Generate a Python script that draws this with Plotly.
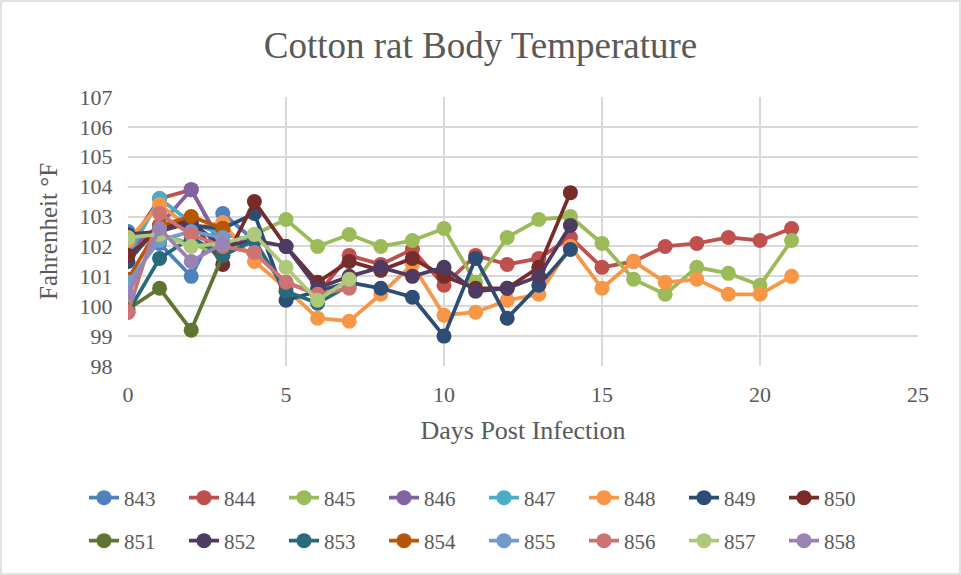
import plotly.graph_objects as go

days = list(range(22))
series_names = ["843", "844", "845", "846", "847", "848", "849", "850",
                "851", "852", "853", "854", "855", "856", "857", "858"]
colors = ["#4F81BD", "#C0504D", "#9BBB59", "#8064A2", "#4BACC6", "#F79646", "#2C4D75", "#772C2A",
          "#5F7530", "#4D3B62", "#276A7C", "#B65708", "#729ACA", "#CD7371", "#AFC97A", "#9983B5"]

t843 = [102.5, 102.1, 101.0, 103.1, 102.2]
t844 = [102.0, 103.6, 103.9, 102.0, 101.8, 100.8, 100.4, 101.7, 101.4, 101.9, 100.7, 101.7, 101.4, 101.6, 102.3,
        101.3, 101.5, 102.0, 102.1, 102.3, 102.2, 102.6]
t845 = [102.3, 102.4, 102.1, 101.7, 102.4, 102.9, 102.0, 102.4, 102.0, 102.2, 102.6, 100.8, 102.3, 102.9, 103.0,
        102.1, 100.9, 100.4, 101.3, 101.1, 100.7, 102.2]
t846 = [101.9, 102.7, 103.9, 102.0, 102.3]
t847 = [101.7, 103.6, 102.8, 102.4, 102.2]
t848 = [102.2, 103.4, 102.6, 102.8, 101.5, 100.6, 99.6, 99.5, 100.4, 101.4, 99.7, 99.8, 100.2, 100.4, 102.0,
        100.6, 101.5, 100.8, 100.9, 100.4, 100.4, 101.0]
t849 = [101.5, 102.7, 102.7, 102.6, 103.1, 100.2, 100.5, 100.8, 100.6, 100.3, 99.0, 101.6, 99.6, 100.7, 101.9]
t850 = [101.7, 102.6, 102.9, 101.4, 103.5, 102.0, 100.8, 101.5, 101.2, 101.6, 101.0, 100.6, 100.6, 101.3, 103.8]
t851 = [99.9, 100.6, 99.2, 101.7]
t852 = [102.4, 102.5, 102.8, 102.0, 102.2, 102.0, 100.6, 101.0, 101.3, 101.0, 101.3, 100.5, 100.6, 101.0, 102.7]
t853 = [99.8, 101.6, 102.3, 101.7, 102.2, 100.5, 100.1, 100.7]
t854 = [100.9, 102.7, 103.0, 102.6]
t855 = [100.8, 102.2, 102.5, 102.3]
t856 = [99.8, 103.1, 102.4, 102.0, 101.8, 100.8, 100.4, 100.6]
t857 = [102.3, 102.4, 102.0, 102.1, 102.4, 101.3, 100.2, 100.9]
t858 = [100.4, 102.6, 101.5, 102.1]

values = [t843, t844, t845, t846, t847, t848, t849, t850,
          t851, t852, t853, t854, t855, t856, t857, t858]

FONT = "Liberation Serif, Times New Roman, serif"
GREY = "#595959"
GRID = "#D9D9D9"

W, H = 961, 575
ML, MR, MT, MB = 128, 43, 97, 209
PW, PH = W - ML - MR, H - MT - MB

fig = go.Figure()
for i, (name, col, vals) in enumerate(zip(series_names, colors, values)):
    fig.add_trace(go.Scatter(
        x=days[:len(vals)], y=vals, name=name, mode="lines+markers",
        line=dict(color=col, width=3.75),
        marker=dict(color=col, size=15),
        legend="legend" if i < 8 else "legend2",
    ))

legend_common = dict(orientation="h", xanchor="left", x=(84 - ML) / PW, yanchor="middle",
                     font=dict(family=FONT, size=21, color=GREY),
                     entrywidth=55, entrywidthmode="pixels",
                     bgcolor="rgba(0,0,0,0)", itemwidth=30, tracegroupgap=0)

fig.update_layout(
    width=W, height=H,
    margin=dict(l=ML, r=MR, t=MT, b=MB, autoexpand=False),
    paper_bgcolor="white", plot_bgcolor="white",
    title=dict(text="Cotton rat Body Temperature", x=0.5, xref="container", xanchor="center",
               y=1 - 45 / H, yanchor="middle",
               font=dict(family=FONT, size=37, color=GREY)),
    xaxis=dict(range=[0, 25], dtick=5, tick0=0, showgrid=True, gridcolor=GRID, gridwidth=1.5,
               zeroline=False, showline=False, ticks="outside", ticklen=9, tickcolor="rgba(0,0,0,0)",
               tickfont=dict(family=FONT, size=22, color=GREY),
               title=dict(text="Days Post Infection", font=dict(family=FONT, size=26, color=GREY), standoff=14)),
    yaxis=dict(range=[98, 107], dtick=1, tick0=98, showgrid=True, gridcolor=GRID, gridwidth=1.5,
               zeroline=False, showline=False, ticks="outside", ticklen=10, tickcolor="rgba(0,0,0,0)",
               tickfont=dict(family=FONT, size=22, color=GREY),
               title=dict(text="Fahrenheit °F", font=dict(family=FONT, size=25, color=GREY), standoff=14)),
    legend=dict(y=-(498 - (MT + PH)) / PH, **legend_common),
    legend2=dict(y=-(541 - (MT + PH)) / PH, **legend_common),
    showlegend=True,
    shapes=[dict(type="rect", xref="paper", yref="paper",
                 x0=-(ML - 1) / PW, x1=1 + (MR - 1) / PW,
                 y0=-(MB - 1) / PH, y1=1 + (MT - 1) / PH,
                 line=dict(color=GRID, width=1.5), fillcolor="rgba(0,0,0,0)", layer="below")],
)

fig.write_html("out.html", config={"displayModeBar": False},
               post_script="document.body.style.margin='0';document.body.style.overflow='hidden';")
